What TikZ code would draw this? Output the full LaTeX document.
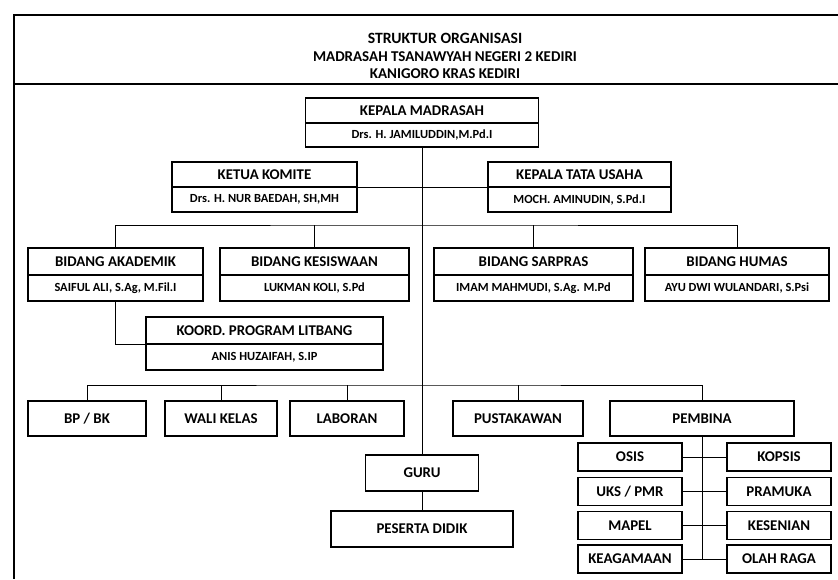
\documentclass[tikz,border=0pt]{standalone}
\usepackage{fontspec}
\setmainfont{Carlito}
\usepackage{tikz}
\usetikzlibrary{positioning}

\begin{document}
\begin{tikzpicture}[x=0.03cm, y=-0.03cm,
    hd/.style={draw, line width=0.9pt, inner sep=0pt, outer sep=0pt,
      font=\bfseries\fontsize{12.7}{14}\selectfont},
    nm/.style={hd, font=\bfseries\fontsize{10.6}{12}\selectfont},
    wh/.style 2 args={minimum width=#1*0.03cm, minimum height=#2*0.03cm},
    ln/.style={line width=0.8pt}]
      \useasboundingbox (0,0) rectangle (838,579);

      % frame and title
      \draw[line width=1.6pt] (838,15) -- (14,15) -- (14,579);
      \draw[line width=1.6pt] (14,84) -- (838,84);
      \node[font=\bfseries\fontsize{13.4}{16}\selectfont] (judul) at (445,38) {STRUKTUR ORGANISASI};
      \node[font=\bfseries\fontsize{12.8}{14}\selectfont] (sekolah) at (445,57) {MADRASAH TSANAWYAH NEGERI 2 KEDIRI};
      \node[font=\bfseries\fontsize{12.8}{14}\selectfont] (alamat) at (445,74) {KANIGORO KRAS KEDIRI};

      % pimpinan
      \node[hd, wh={233}{25}] (kep) at (422,110.5) {KEPALA MADRASAH};
      \node[nm, wh={233}{24}, below=0pt of kep] (kepn) {Drs. H. JAMILUDDIN,M.Pd.I};
      \node[hd, wh={185}{25}] (kom) at (264.5,174.5) {KETUA KOMITE};
      \node[nm, wh={185}{25}, below=0pt of kom] (komn) {Drs. H. NUR BAEDAH, SH,MH};
      \node[hd, wh={183}{25}] (tu) at (579.5,174.5) {KEPALA TATA USAHA};
      \node[nm, wh={183}{25}, below=0pt of tu] (tun) {MOCH. AMINUDIN, S.Pd.I};

      % bidang
      \node[hd, wh={175}{27}] (akd) at (115.5,261.5) {BIDANG AKADEMIK};
      \node[nm, wh={175}{26}, below=0pt of akd] (akdn) {SAIFUL ALI, S.Ag, M.Fil.I};
      \node[hd, wh={189}{27}] (kes) at (314.5,261.5) {BIDANG KESISWAAN};
      \node[nm, wh={189}{26}, below=0pt of kes] (kesn) {LUKMAN KOLI, S.Pd};
      \node[hd, wh={199}{27}] (sar) at (533.5,261.5) {BIDANG SARPRAS};
      \node[nm, wh={199}{26}, below=0pt of sar] (sarn) {IMAM MAHMUDI, S.Ag. M.Pd};
      \node[hd, wh={184}{27}] (hum) at (737,261.5) {BIDANG HUMAS};
      \node[nm, wh={184}{26}, below=0pt of hum] (humn) {AYU DWI WULANDARI, S.Psi};
      \node[hd, wh={237}{27}] (ltb) at (264.5,330.5) {KOORD. PROGRAM LITBANG};
      \node[nm, wh={237}{26}, below=0pt of ltb] (ltbn) {ANIS HUZAIFAH, S.IP};

      % pelaksana
      \node[hd, wh={118}{35}] (bpbk) at (87,418.5) {BP / BK};
      \node[hd, wh={112}{35}] (wali) at (221,418.5) {WALI KELAS};
      \node[hd, wh={114}{35}] (lab) at (347,418.5) {LABORAN};
      \node[hd, wh={130}{35}] (pus) at (518,418.5) {PUSTAKAWAN};
      \node[hd, wh={184}{35}] (pmb) at (702,418.5) {PEMBINA};
      \node[hd, wh={113}{36}] (guru) at (422,473) {GURU};
      \node[hd, wh={182}{36}] (pes) at (422,529) {PESERTA DIDIK};

      % pembina
      \node[hd, wh={104}{28}] (osis) at (630,457) {OSIS};
      \node[hd, wh={104}{28}] (uks) at (630,491.5) {UKS / PMR};
      \node[hd, wh={104}{28}] (mapel) at (630,525.5) {MAPEL};
      \node[hd, wh={104}{28}] (agama) at (630,559) {KEAGAMAAN};
      \node[hd, wh={104}{28}] (kopsis) at (779,457) {KOPSIS};
      \node[hd, wh={104}{28}] (pram) at (779,491.5) {PRAMUKA};
      \node[hd, wh={104}{28}] (seni) at (779,525.5) {KESENIAN};
      \node[hd, wh={104}{28}] (olah) at (779,559) {OLAH RAGA};

      \coordinate (bidbar) at (422,225);
      \coordinate (pelbar) at (422,385);
      \coordinate (pmbend) at (702,559);

      % garis
      \draw[ln] (kepn.south) -- (guru.north);
      \draw[ln] (kom.south east) -- (tu.south west);
      \draw[ln] (akd.north) |- (bidbar) -| (hum.north);
      \draw[ln] (kes.north) -- (kes.north |- bidbar);
      \draw[ln] (sar.north) -- (sar.north |- bidbar);
      \draw[ln] (akdn.south) |- (ltb.south west);
      \draw[ln] (bpbk.north) |- (pelbar) -| (pmb.north);
      \draw[ln] (wali.north) -- (wali.north |- pelbar);
      \draw[ln] (lab.north) -- (lab.north |- pelbar);
      \draw[ln] (pus.north) -- (pus.north |- pelbar);
      \draw[ln] (guru.south) -- (pes.north);
      \draw[ln] (pmb.south) -- (pmbend);
      \draw[ln] (osis.east) -- (kopsis.west);
      \draw[ln] (uks.east) -- (pram.west);
      \draw[ln] (mapel.east) -- (seni.west);
      \draw[ln] (agama.east) -- (olah.west);
    \end{tikzpicture}
\end{document}
